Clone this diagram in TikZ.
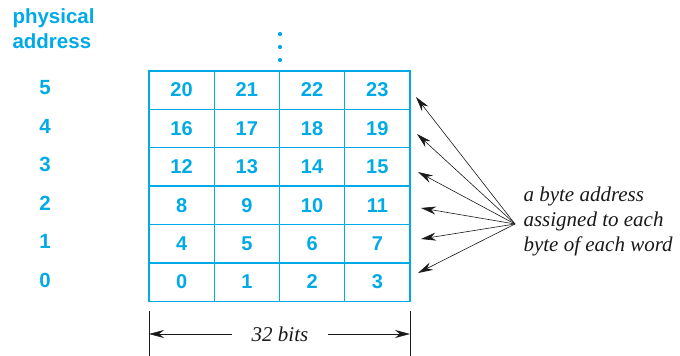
\documentclass[tikz,border=0pt]{standalone}
\usepackage{fontspec}
\setmainfont{Liberation Serif}
\setsansfont{Liberation Sans}
\usepackage{xcolor}
\usepackage{tikz}
\usetikzlibrary{positioning,arrows.meta}
\definecolor{membl}{RGB}{0,170,230}

\begin{document}
\begin{tikzpicture}[x=1pt,y=-1pt,
        cell/.style={rectangle,draw=membl,line width=1.4pt,minimum width=65.25pt,
                     minimum height=38.4pt,inner sep=0pt,text=membl,
                     font=\fontsize{20}{23}\selectfont\sffamily\bfseries},
        addr/.style={text=membl,font=\fontsize{20.5}{24}\selectfont\sffamily\bfseries},
        note/.style={font=\fontsize{21}{25}\selectfont\rmfamily\itshape,text=black!90},
        ptr/.style={draw=black!90,line width=0.6pt,
                    -{Stealth[length=15pt,width=8pt]}}]
        \useasboundingbox (0,0) rectangle (680,356);
        % memory words, row 0 at the bottom
        \foreach \r in {0,...,5}{
          \foreach \c in {0,...,3}{
            \pgfmathtruncatemacro{\b}{4*\r+\c}
            \node[cell] (m\r\c) at (181.6+65.25*\c,282-38.4*\r) {\b};
          }
          \node[addr] (pa\r) at (45,280-38.4*\r) {\r};
        }
        \node[addr,anchor=west,align=left] (phys) at (9,29)
          {physical\\[1pt]address};
        % more words above
        \foreach \k/\yy in {1/34,2/47,3/60}
          \fill[membl] (280,\yy) circle (2.1pt);
        % byte address pointers
        \node[note,anchor=west,align=left] (byteaddr) at (520,221)
          {a byte address\\assigned to each\\byte of each word};
        \coordinate (hub) at (515,224);
        \foreach \i/\tx/\ty in {5/416/97,4/417/134,3/418/172,2/421/208,1/421/239,0/418/273}{
          \coordinate (tip\i) at (\tx,\ty);
          \draw[ptr] (hub) -- (tip\i);
        }
        % word width
        \coordinate (wl) at (149,311);
        \coordinate (wr) at (410,311);
        \draw[black!90,line width=0.6pt] (wl) -- ++(0,45);
        \draw[black!90,line width=0.6pt] (wr) -- ++(0,45);
        \node[note] (bits) at (280,334) {32 bits};
        \draw[ptr] (bits.west) ++(-16pt,0) coordinate (bl) -- (wl |- bits);
        \draw[ptr] (bits.east) ++(16pt,0) coordinate (br) -- (wr |- bits);
      \end{tikzpicture}
\end{document}
